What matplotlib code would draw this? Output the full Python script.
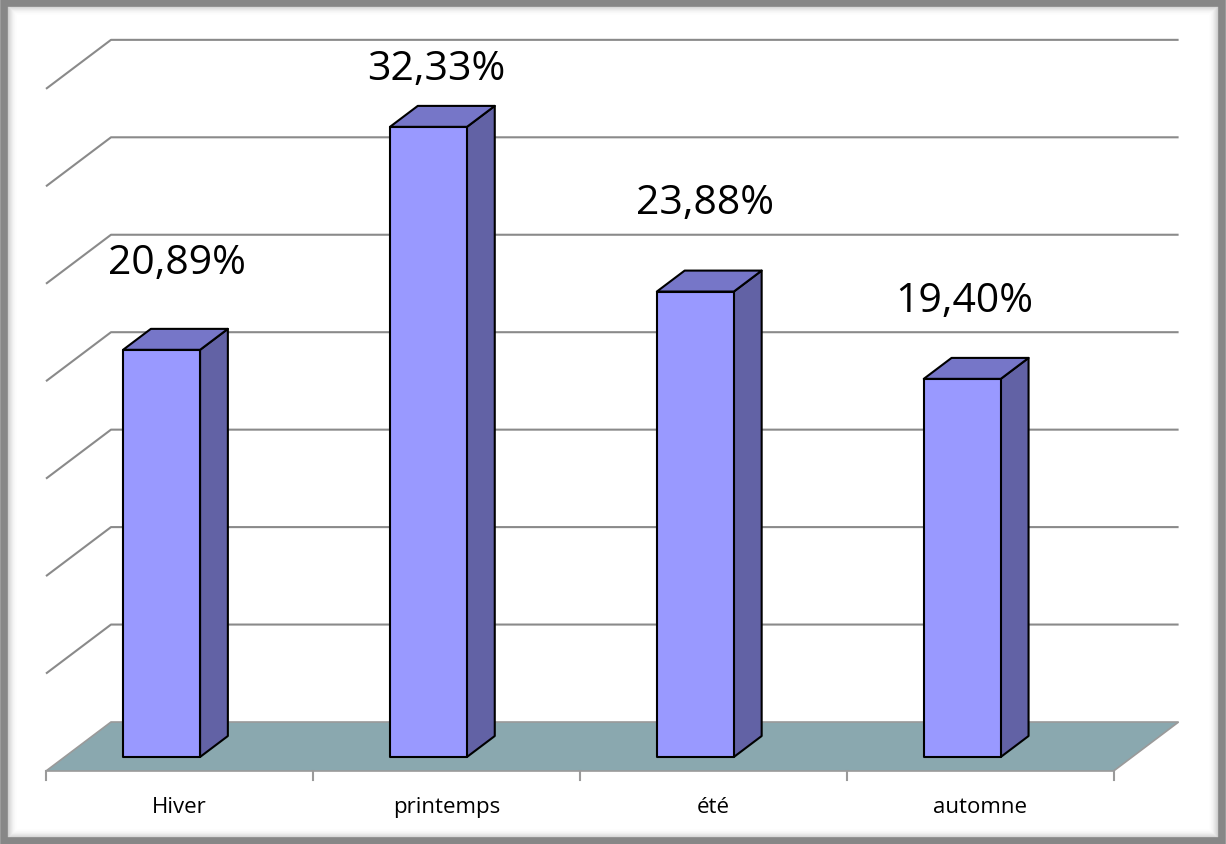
import numpy as np
import matplotlib
matplotlib.use('Agg')
import matplotlib.pyplot as plt
from matplotlib.patches import Polygon, Rectangle

plt.rcParams['font.family'] = ['Open Sans', 'DejaVu Sans']

# data
saisons = ['Hiver', 'printemps', 'été', 'automne']
valeurs = [20.89, 32.33, 23.88, 19.40]
etiquettes = ['20,89%', '32,33%', '23,88%', '19,40%']
grille = [0, 5, 10, 15, 20, 25, 30, 35]

W, H = 1226, 844
PX_X = 266.9          # pixels per category
PX_Y = 19.49          # pixels per percent
DX = 65 / PX_X        # full depth offset (x)
DY = 49 / PX_Y        # full depth offset (y)
D_FRONT, D_BACK = 0.286, 0.714   # bar depth range (0 = front, 1 = back)
BAR_L, BAR_W = -0.281, 0.2885
# manual label offsets in pixels (dx, dy above front top)
LAB_DX = [15.5, 8, 9.5, 1.5]
LAB_DY = [76, 47, 78, 67]

fig = plt.figure(figsize=(W / 100, H / 100), dpi=100)
ax = fig.add_axes([0, 0, 1, 1])
ax.set_xlim(-0.5 - 111 / PX_X, -0.5 + (W - 111) / PX_X)
ax.set_ylim((722 - H) / PX_Y, 722 / PX_Y)
ax.axis('off')

def proj(x, y, d):
    return (x - (1 - d) * DX, y - (1 - d) * DY)

n = len(saisons)
x0, x1 = -0.5, n - 0.5
gcol = '#8a8a8a'

# floor
floor = [proj(x0, 0, 0), proj(x1, 0, 0), proj(x1, 0, 1), proj(x0, 0, 1)]
ax.add_patch(Polygon(floor, closed=True, facecolor='#8aa8af', edgecolor='#9a9a9a', lw=1.2, zorder=1))

# back wall + left wall gridlines
for g in grille:
    if g > 0:
        bx, by = zip(proj(x0, g, 0), proj(x0, g, 1), proj(x1, g, 1))
        ax.plot(bx, by, color=gcol, lw=1.5, zorder=2, solid_capstyle='butt')

# ticks under the front floor edge
for k in range(n + 1):
    tx, ty = proj(x0 + k, 0, 0)
    ax.plot([tx, tx], [ty, ty - 9 / PX_Y], color='#9a9a9a', lw=1.5, zorder=2)

# bars
for i, v in enumerate(valeurs):
    xl = i + BAR_L
    xr = xl + BAR_W
    front = [proj(xl, 0, D_FRONT), proj(xr, 0, D_FRONT), proj(xr, v, D_FRONT), proj(xl, v, D_FRONT)]
    side = [proj(xr, 0, D_FRONT), proj(xr, 0, D_BACK), proj(xr, v, D_BACK), proj(xr, v, D_FRONT)]
    top = [proj(xl, v, D_FRONT), proj(xr, v, D_FRONT), proj(xr, v, D_BACK), proj(xl, v, D_BACK)]
    ax.add_patch(Polygon(side, closed=True, facecolor='#6262a5', edgecolor='black', lw=1.5, zorder=3, joinstyle='round'))
    ax.add_patch(Polygon(top, closed=True, facecolor='#7676c8', edgecolor='black', lw=1.5, zorder=3, joinstyle='round'))
    ax.add_patch(Polygon(front, closed=True, facecolor='#9999ff', edgecolor='black', lw=1.5, zorder=4, joinstyle='round'))
    lx, ly = proj(xl + BAR_W / 2, v, D_FRONT)
    ax.text(lx + LAB_DX[i] / PX_X, ly + LAB_DY[i] / PX_Y, etiquettes[i], ha='center', va='baseline',
            fontsize=29.5, color='black', zorder=5)
    cx, cy = proj(i, 0, 0)
    ax.text(cx, cy - 42 / PX_Y, saisons[i], ha='center', va='baseline', fontsize=16, color='black')

# frame with soft inner shadow
for k in range(10):
    a = 0.35 * (1 - k / 10) ** 2
    fig.patches.append(Rectangle(((7 + k) / W, (6 + k) / H), (W - 15 - 2 * k) / W, (H - 11 - 2 * k) / H,
                                 transform=fig.transFigure, fill=False, edgecolor='#808080',
                                 lw=1.0, alpha=a, zorder=10))
fig.patches.append(Rectangle((3.5 / W, 3 / H), (W - 7.5) / W, (H - 6) / H, transform=fig.transFigure,
                             fill=False, edgecolor='#878787', lw=5.5, zorder=11))

fig.savefig('out.png', dpi=100, facecolor='white')
